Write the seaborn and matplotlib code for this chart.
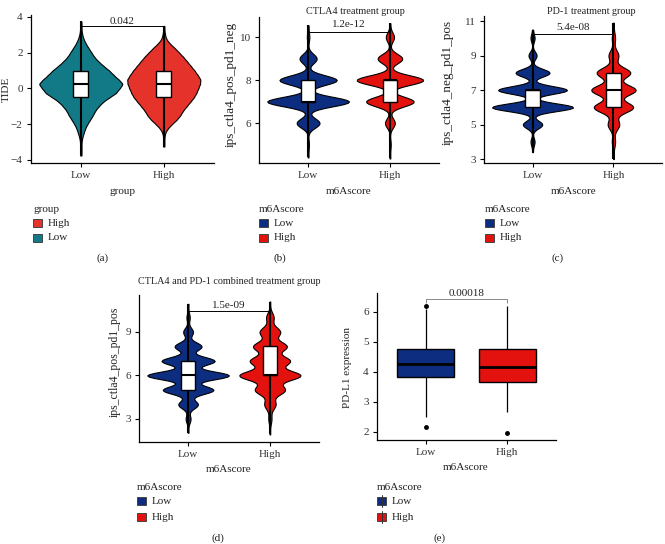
import numpy as np
import pandas as pd
import matplotlib
matplotlib.use("Agg")
import matplotlib.pyplot as plt
import seaborn as sns
from matplotlib.patches import Rectangle
from matplotlib.lines import Line2D

# ---------------- data ----------------
groups = ["Low", "High"]

# (a) TIDE score, binned values with counts per group
tide_values = [-3.75, -3.5, -3.25, -3.0, -2.75, -2.5, -2.25, -2.0, -1.75, -1.5, -1.25,
               -1.0, -0.75, -0.5, -0.25, 0.0, 0.25, 0.5, 0.75, 1.0, 1.25, 1.5, 1.75,
               2.0, 2.25, 2.5, 2.75, 3.0, 3.25, 3.5, 3.75]
tide_low_counts = [1, 1, 1, 1, 2, 4, 6, 9, 13, 17, 20, 25, 31, 40, 50, 54, 60, 53, 46,
                   40, 32, 25, 19, 15, 11, 7, 4, 2, 1, 1, 1]
tide_high_counts = [0, 0, 1, 1, 1, 2, 6, 13, 21, 27, 31, 37, 43, 49, 53, 56, 59, 60, 55,
                    50, 44, 38, 32, 25, 18, 10, 4, 2, 1, 1, 0]

# (b) ips_ctla4_pos_pd1_neg
ctla4_low_values = [4.4, 5, 6, 7, 8, 9, 10, 10.55]
ctla4_low_counts = [1, 2, 28, 100, 70, 21, 3, 1]
ctla4_high_values = [4.35, 5, 6, 7, 8, 9, 10, 10.65]
ctla4_high_counts = [1, 2, 12, 58, 81, 30, 10, 1]

# (c) ips_ctla4_neg_pd1_pos
pd1_low_values = [3.4, 4, 5, 6, 7, 8, 9, 10, 10.5]
pd1_low_counts = [1, 5, 24, 100, 85, 42, 10, 5, 1]
pd1_high_values = [3.0, 4, 5, 6, 7, 8, 9, 10, 10.9]
pd1_high_counts = [1, 4, 14, 48, 54, 41, 12, 4, 1]

# (d) ips_ctla4_pos_pd1_pos
comb_low_values = [2.05, 3, 4, 5, 6, 7, 8, 9, 10, 10.94]
comb_low_counts = [1, 6, 24, 62, 100, 65, 33, 12, 4, 1]
comb_high_values = [1.93, 3, 4, 5, 6, 7, 8, 9, 10, 11.1]
comb_high_counts = [1, 5, 18, 48, 98, 64, 54, 33, 12, 1]

# (e) PD-L1 expression samples
pdl1_low = [2.15, 2.5, 3.3, 3.83, 3.83, 4.1, 4.27, 4.5, 4.77, 4.77, 5.4, 6.1, 6.19]
pdl1_high = [1.95, 2.65, 3.2, 3.65, 3.65, 3.9, 4.15, 4.4, 4.75, 4.75, 5.4, 6.0, 6.2]

p_labels = ["0.042", "1.2e-12", "5.4e-08", "1.5e-09", "0.00018"]

# ---------------- style ----------------
TEAL = "#127A87"
RED_A = "#E5322B"
NAVY = "#0D2D80"
RED = "#E3120F"
TXT = "#222222"

sns.set_theme(style="ticks")
plt.rcParams["font.family"] = ["Liberation Serif", "DejaVu Serif"]

W, H = 665, 544
fig = plt.figure(figsize=(W / 100, H / 100), dpi=100)
fig.patch.set_facecolor("white")


def rect(l, t, r, b):
    return [l / W, 1 - b / H, (r - l) / W, (b - t) / H]


def fx(x):
    return x / W


def fy(y):
    return 1 - y / H


FS = 8          # ticks, axis titles, legends, captions
FS_T = 7.3      # panel titles


def style_ax(ax, ylim, yticks):
    ax.set_xlim(-0.6, 1.6)
    ax.set_ylim(*ylim)
    ax.set_yticks(yticks)
    ax.set_xticks([0, 1])
    ax.set_xticklabels(groups)
    for s in ["top", "right"]:
        ax.spines[s].set_visible(False)
    for s in ["left", "bottom"]:
        ax.spines[s].set_color("black")
        ax.spines[s].set_linewidth(0.9)
    ax.tick_params(axis="both", length=3, width=0.8, color="black", labelsize=FS,
                   labelcolor="#333333", pad=3, left=True, bottom=True)
    ax.set_xlabel("")
    ax.set_ylabel("")
    ax.set_facecolor("white")
    ax.grid(False)


def violin_panel(ax, low_vals, low_cnts, high_vals, high_cnts, cols, widths, bws):
    frames = []
    for g, vals, cnts, col, wd, bw in zip(groups, [low_vals, high_vals], [low_cnts, high_cnts],
                                          cols, widths, bws):
        data = np.repeat(np.asarray(vals, float), cnts)
        df = pd.DataFrame({"g": g, "v": data})
        frames.append(df)
        sns.violinplot(data=df, x="g", y="v", order=groups, color=col, width=wd,
                       inner=None, cut=0, bw_method=bw / np.std(data),
                       density_norm="width", linecolor="black", linewidth=0.8,
                       saturation=1, ax=ax)
    df_all = pd.concat(frames, ignore_index=True)
    sns.boxplot(data=df_all, x="g", y="v", order=groups, width=0.18, whis=(0, 100),
                color="white", linecolor="black", linewidth=1.0, showcaps=False,
                fliersize=0, saturation=1, ax=ax,
                medianprops=dict(linewidth=1.5, color="black"),
                whiskerprops=dict(linewidth=1.5, color="black"))


def bracket(ax, y, tip, ty, label, color="black"):
    ax.plot([0, 0, 1, 1], [y - tip, y, y, y - tip], color=color, lw=0.7,
            solid_capstyle="butt", zorder=5)
    ax.text(0.5, ty, label, ha="center", va="center", fontsize=FS, color=TXT)


def legend(x, ty, title, items, boxkey=False):
    fig.text(fx(x), fy(ty), title, ha="left", va="center", fontsize=FS, color=TXT)
    ys = [ty + 14, ty + 30] if ty > 300 else [ty + 13, ty + 28]
    for (lab, col), yy in zip(items, ys):
        if boxkey:
            fig.add_artist(Line2D([fx(x + 4.5), fx(x + 4.5)], [fy(yy - 6), fy(yy + 6)],
                                  transform=fig.transFigure, color="#333333", lw=0.7))
        fig.add_artist(Rectangle((fx(x), fy(yy + 4)), 8.5 / W, 8 / H,
                                 transform=fig.transFigure, fc=col, ec="#444444", lw=0.7))
        fig.text(fx(x + 14.5), fy(yy), lab, ha="left", va="center", fontsize=FS, color=TXT)


# ---------------- (a) ----------------
ax_a = fig.add_axes(rect(31, 15, 213.6, 163))
violin_panel(ax_a, tide_values, tide_low_counts, tide_values, tide_high_counts,
             [TEAL, RED_A], [1.0, 0.88], [0.14, 0.14])
style_ax(ax_a, (-4.17, 4.11), [-4, -2, 0, 2, 4])
bracket(ax_a, 3.48, 0.0, 3.75, p_labels[0])
fig.text(fx(6), fy(89), "TIDE", rotation=90, ha="center", va="center", fontsize=FS, color=TXT)
fig.text(fx(122), fy(191), "group", ha="center", va="center", fontsize=FS, color=TXT)
legend(33, 210, "group", [("High", RED_A), ("Low", TEAL)])
fig.text(fx(103), fy(258), "(a)", ha="center", va="center", fontsize=FS, color=TXT)

# ---------------- (b) ----------------
ax_b = fig.add_axes(rect(259, 17, 439, 163))
violin_panel(ax_b, ctla4_low_values, ctla4_low_counts, ctla4_high_values, ctla4_high_counts,
             [NAVY, RED], [1.0, 0.81], [0.22, 0.22])
style_ax(ax_b, (4.14, 10.94), [6, 8, 10])
bracket(ax_b, 10.25, 0.0, 10.58, p_labels[1])
fig.text(fx(355), fy(12), "CTLA4 treatment group", ha="center", va="center", fontsize=FS_T, color=TXT)
fig.text(fx(231), fy(84), "ips_ctla4_pos_pd1_neg", rotation=90, ha="center", va="center",
         fontsize=9.5, color=TXT)
fig.text(fx(349), fy(191), "m6Ascore", ha="center", va="center", fontsize=FS, color=TXT)
legend(259, 210, "m6Ascore", [("Low", NAVY), ("High", RED)])
fig.text(fx(280), fy(258), "(b)", ha="center", va="center", fontsize=FS, color=TXT)

# ---------------- (c) ----------------
ax_c = fig.add_axes(rect(484, 16, 662, 163))
violin_panel(ax_c, pd1_low_values, pd1_low_counts, pd1_high_values, pd1_high_counts,
             [NAVY, RED], [1.0, 0.55], [0.22, 0.3])
style_ax(ax_c, (2.77, 11.29), [3, 5, 7, 9, 11])
bracket(ax_c, 10.25, 0.0, 10.65, p_labels[2])
fig.text(fx(591), fy(12), "PD-1 treatment group", ha="center", va="center", fontsize=FS_T, color=TXT)
fig.text(fx(448), fy(82), "ips_ctla4_neg_pd1_pos", rotation=90, ha="center", va="center",
         fontsize=9.5, color=TXT)
fig.text(fx(574), fy(191), "m6Ascore", ha="center", va="center", fontsize=FS, color=TXT)
legend(485, 210, "m6Ascore", [("Low", NAVY), ("High", RED)])
fig.text(fx(558), fy(258), "(c)", ha="center", va="center", fontsize=FS, color=TXT)

# ---------------- (d) ----------------
ax_d = fig.add_axes(rect(139, 295, 319, 442))
violin_panel(ax_d, comb_low_values, comb_low_counts, comb_high_values, comb_high_counts,
             [NAVY, RED], [1.0, 0.75], [0.28, 0.33])
style_ax(ax_d, (1.41, 11.55), [3, 6, 9])
bracket(ax_d, 10.43, 0.0, 10.85, p_labels[3])
fig.text(fx(229), fy(281), "CTLA4 and PD-1 combined treatment group", ha="center", va="center",
         fontsize=FS_T, color=TXT)
fig.text(fx(115), fy(362), "ips_ctla4_pos_pd1_pos", rotation=90, ha="center", va="center",
         fontsize=8.5, color=TXT)
fig.text(fx(229), fy(470), "m6Ascore", ha="center", va="center", fontsize=FS, color=TXT)
legend(137, 487, "m6Ascore", [("Low", NAVY), ("High", RED)])
fig.text(fx(218), fy(538), "(d)", ha="center", va="center", fontsize=FS, color=TXT)

# ---------------- (e) ----------------
ax_e = fig.add_axes(rect(377, 293, 556, 440))
df_e = pd.DataFrame({"g": ["Low"] * len(pdl1_low) + ["High"] * len(pdl1_high),
                     "v": pdl1_low + pdl1_high})
sns.boxplot(data=df_e, x="g", y="v", hue="g", order=groups, hue_order=groups,
            palette=[NAVY, RED], width=0.7, linecolor="black", linewidth=1.0,
            showcaps=False, saturation=1, legend=False, ax=ax_e, whis=1.5,
            medianprops=dict(linewidth=2.0, color="black"),
            whiskerprops=dict(linewidth=0.9, color="black"),
            flierprops=dict(marker="o", markerfacecolor="black", markeredgecolor="black",
                            markersize=2.5))
style_ax(ax_e, (1.733, 6.633), [2, 3, 4, 5, 6])
bracket(ax_e, 6.43, 0.12, 6.63, p_labels[4], color="#888888")
fig.text(fx(348), fy(367), "PD-L1 expression", rotation=90, ha="center", va="center",
         fontsize=8, color=TXT)
fig.text(fx(466), fy(467), "m6Ascore", ha="center", va="center", fontsize=FS, color=TXT)
legend(377, 487, "m6Ascore", [("Low", NAVY), ("High", RED)], boxkey=True)
fig.text(fx(440), fy(538), "(e)", ha="center", va="center", fontsize=FS, color=TXT)

fig.savefig("out.png", dpi=100, facecolor="white")
